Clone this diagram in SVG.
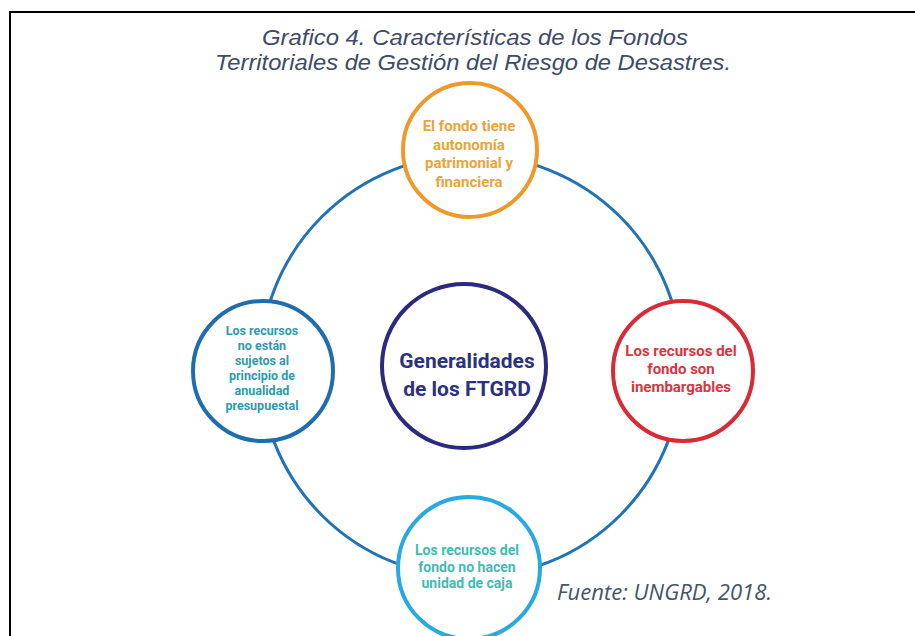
<svg xmlns="http://www.w3.org/2000/svg" width="915" height="636" viewBox="0 0 915 636">
<style>
.title{font-family:"Liberation Sans",Arial,sans-serif;font-style:italic;font-size:22.5px;fill:#3E4B69;text-anchor:middle}
.src{font-family:"Open Sans","Liberation Sans",sans-serif;font-style:italic;font-size:21px;fill:#44546A}
.n{font-family:Roboto,"Liberation Sans",sans-serif;font-weight:bold;text-anchor:middle}
.ring{fill:none;stroke:#2273B4;stroke-width:3}
.c{fill:#ffffff;stroke-width:4}
</style>
<rect width="915" height="636" fill="#ffffff"/>
<path d="M10 636 V12 H915" fill="none" stroke="#000000" stroke-width="2"/>
<text class="title" x="475" y="45" textLength="426" lengthAdjust="spacingAndGlyphs">Grafico 4. Características de los Fondos</text>
<text class="title" x="473" y="70" textLength="516" lengthAdjust="spacingAndGlyphs">Territoriales de Gestión del Riesgo de Desastres.</text>
<g id="connectors">
<circle class="ring" cx="471" cy="366" r="211"/>
</g>
<g id="node-top">
<circle class="c" cx="470" cy="150" r="67" stroke="#F0992B"/>
<text class="n" font-size="15" fill="#E9A43C"><tspan x="469" y="131">El fondo tiene</tspan><tspan x="469" y="150">autonomía</tspan><tspan x="469" y="168">patrimonial y</tspan><tspan x="469" y="187">financiera</tspan></text>
</g>
<g id="node-center">
<circle class="c" cx="464" cy="366" r="82" stroke="#2B2A7E"/>
<text class="n" font-size="21" fill="#2C3180"><tspan x="467" y="368">Generalidades</tspan><tspan x="467" y="396">de los FTGRD</tspan></text>
</g>
<g id="node-right">
<circle class="c" cx="683" cy="371" r="70" stroke="#D92B36"/>
<text class="n" font-size="15" fill="#D8353F"><tspan x="681" y="356">Los recursos del</tspan><tspan x="681" y="374">fondo son</tspan><tspan x="681" y="392">inembargables</tspan></text>
</g>
<g id="node-left">
<circle class="c" cx="263" cy="371" r="70" stroke="#1E6EAE"/>
<text class="n" font-size="12.5" fill="#2D9AB0"><tspan x="262" y="335">Los recursos</tspan><tspan x="262" y="350">no están</tspan><tspan x="262" y="365">sujetos al</tspan><tspan x="262" y="380">principio de</tspan><tspan x="262" y="395">anualidad</tspan><tspan x="262" y="410">presupuestal</tspan></text>
</g>
<g id="node-bottom">
<circle class="c" cx="469" cy="568" r="71" stroke="#29A9E1"/>
<text class="n" font-size="14" fill="#3DBDB1"><tspan x="467" y="555">Los recursos del</tspan><tspan x="467" y="572">fondo no hacen</tspan><tspan x="467" y="588">unidad de caja</tspan></text>
</g>
<text class="src" x="557" y="600" textLength="215" lengthAdjust="spacingAndGlyphs">Fuente: UNGRD, 2018.</text>
</svg>
